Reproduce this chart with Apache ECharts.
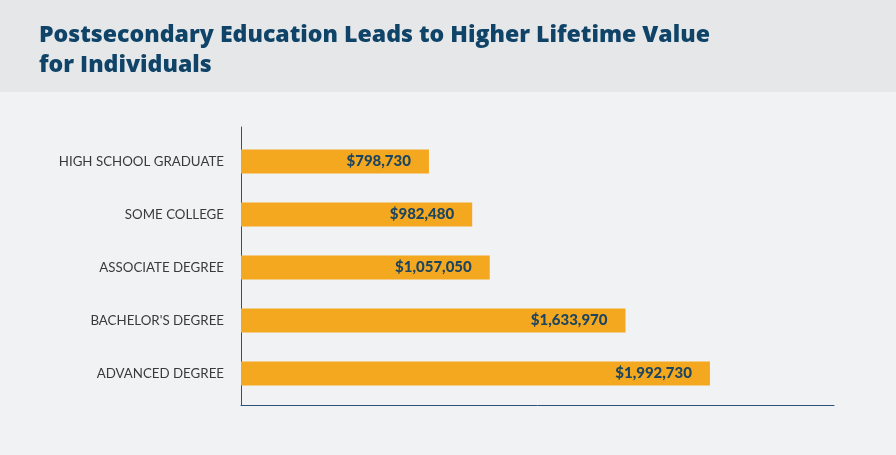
<!DOCTYPE html>
<html>
<head>
<meta charset="utf-8">
<script src="https://cdn.jsdelivr.net/npm/echarts@6/dist/echarts.min.js"></script>
<style>
  html, body { margin: 0; padding: 0; background: #f1f2f4; }
  #chart { width: 896px; height: 455px; }
</style>
</head>
<body>
<div id="chart"></div>
<script>
const categories = ['HIGH SCHOOL GRADUATE', 'SOME COLLEGE', 'ASSOCIATE DEGREE', "BACHELOR'S DEGREE", 'ADVANCED DEGREE']
const lifetimeValues = [798730, 982480, 1057050, 1633970, 1992730]
const titleText = 'Postsecondary Education Leads to Higher Lifetime Value\nfor Individuals'

const chart = echarts.init(document.getElementById('chart'))

const fmtMoney = v => '$' + v.toLocaleString('en-US')

chart.setOption({
  backgroundColor: '#f1f2f4',
  graphic: [
    {
      type: 'rect',
      left: 0,
      top: 0,
      z: -10,
      shape: { width: 896, height: 92 },
      style: { fill: '#e6e7e9' }
    }
  ],
  title: {
    text: titleText,
    left: 34,
    top: 15,
    textStyle: {
      color: '#0f4468',
      fontFamily: 'Open Sans',
      fontWeight: 800,
      fontSize: 23.1,
      lineHeight: 30
    }
  },
  grid: [
    // bars
    { left: 241, right: 62, top: 135, bottom: 55 },
    // axis frame (lines only)
    { left: 241, right: 62, top: 127, bottom: 50 }
  ],
  xAxis: [
    {
      gridIndex: 0,
      type: 'value',
      min: 0,
      max: 2520000,
      show: false
    },
    {
      gridIndex: 1,
      type: 'value',
      min: 0,
      max: 1,
      axisLine: { show: true, lineStyle: { color: '#2d5279', width: 1 } },
      axisTick: { show: false },
      axisLabel: { show: false },
      splitLine: { show: false }
    }
  ],
  yAxis: [
    {
      gridIndex: 0,
      type: 'category',
      inverse: true,
      data: categories,
      axisLine: { show: false },
      axisTick: { show: false },
      axisLabel: {
        color: '#3a3a3a',
        fontFamily: 'Lato',
        fontSize: 13.3,
        margin: 17
      }
    },
    {
      gridIndex: 1,
      type: 'value',
      min: 0,
      max: 1,
      axisLine: { show: true, lineStyle: { color: '#2d5279', width: 1 } },
      axisTick: { show: false },
      axisLabel: { show: false },
      splitLine: { show: false }
    }
  ],
  series: [
    {
      type: 'bar',
      xAxisIndex: 0,
      yAxisIndex: 0,
      data: lifetimeValues,
      barWidth: 24,
      itemStyle: { color: '#f4a81f' },
      label: {
        show: true,
        position: 'insideRight',
        distance: 18,
        formatter: p => fmtMoney(p.value),
        color: '#1b4560',
        fontFamily: 'Lato',
        fontWeight: 900,
        fontSize: 15,
        lineHeight: 18
      },
      silent: true
    }
  ]
})
</script>
</body>
</html>
